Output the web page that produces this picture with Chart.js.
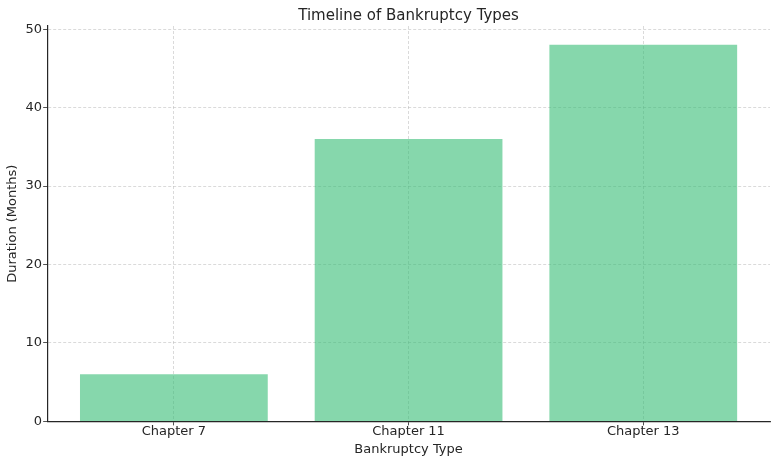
<!DOCTYPE html>
<html>
<head>
<meta charset="utf-8">
<script src="https://cdn.jsdelivr.net/npm/chart.js@4"></script>
<style>
  html, body { margin: 0; padding: 0; background: #fff; }
  #wrap { width: 777px; height: 463px; }
</style>
</head>
<body>
<div id="wrap"><canvas id="bars"></canvas></div>
<script>
const categories = ['Chapter 7', 'Chapter 11', 'Chapter 13']
const durations = [6, 36, 48]
const yTicks = [0, 10, 20, 30, 40, 50]

const font = 'DejaVu Sans'
const ink = '#262626'
const gridColor = 'rgba(176,176,176,0.6)'

const points = durations.map((v, i) => ({ x: i, y: v }))

// center the title over the plot area, like matplotlib does
const centerTitle = {
    id: 'centerTitle',
    afterLayout(chart) {
        if (chart.titleBlock) {
            chart.titleBlock.left = chart.chartArea.left
            chart.titleBlock.right = chart.chartArea.right
        }
    }
}

new Chart(document.getElementById('bars'), {
    type: 'bar',
    data: {
        datasets: [{
            data: points,
            backgroundColor: 'rgba(53,188,117,0.6)',
            borderWidth: 0,
            barPercentage: 0.8,
            categoryPercentage: 1
        }]
    },
    options: {
        responsive: true,
        maintainAspectRatio: false,
        animation: false,
        layout: { padding: { left: 5, right: 7, top: 2, bottom: 6 } },
        plugins: {
            legend: { display: false },
            tooltip: { enabled: false },
            title: {
                display: true,
                text: 'Timeline of Bankruptcy Types',
                color: ink,
                font: { family: font, size: 15, weight: 'normal' },
                padding: { top: 5, bottom: 1 }
            }
        },
        scales: {
            x: {
                type: 'linear',
                min: -0.54,
                max: 2.54,
                offset: false,
                afterBuildTicks: s => { s.ticks = categories.map((c, i) => ({ value: i })) },
                ticks: {
                    color: ink,
                    font: { family: font, size: 13, lineHeight: 1 },
                    padding: 0,
                    callback: v => categories[v]
                },
                grid: {
                    offset: false,
                    color: gridColor,
                    lineWidth: 0.8,
                    tickLength: 4,
                    tickColor: ink,
                    tickBorderDash: []
                },
                border: { display: true, color: ink, width: 1.2, dash: [3, 2] },
                title: {
                    display: true,
                    text: 'Bankruptcy Type',
                    color: ink,
                    font: { family: font, size: 13 },
                    padding: { top: 3, bottom: 0 }
                }
            },
            y: {
                min: 0,
                max: 50.4,
                afterBuildTicks: s => { s.ticks = yTicks.map(v => ({ value: v })) },
                ticks: {
                    color: ink,
                    font: { family: font, size: 13 },
                    padding: 1
                },
                grid: {
                    color: gridColor,
                    lineWidth: 0.8,
                    tickLength: 4,
                    tickColor: ink,
                    tickBorderDash: []
                },
                border: { display: true, color: ink, width: 1.2, dash: [3, 2] },
                title: {
                    display: true,
                    text: 'Duration (Months)',
                    color: ink,
                    font: { family: font, size: 13 },
                    padding: { top: 0, bottom: 4 }
                }
            }
        }
    },
    plugins: [centerTitle]
})
</script>
</body>
</html>
